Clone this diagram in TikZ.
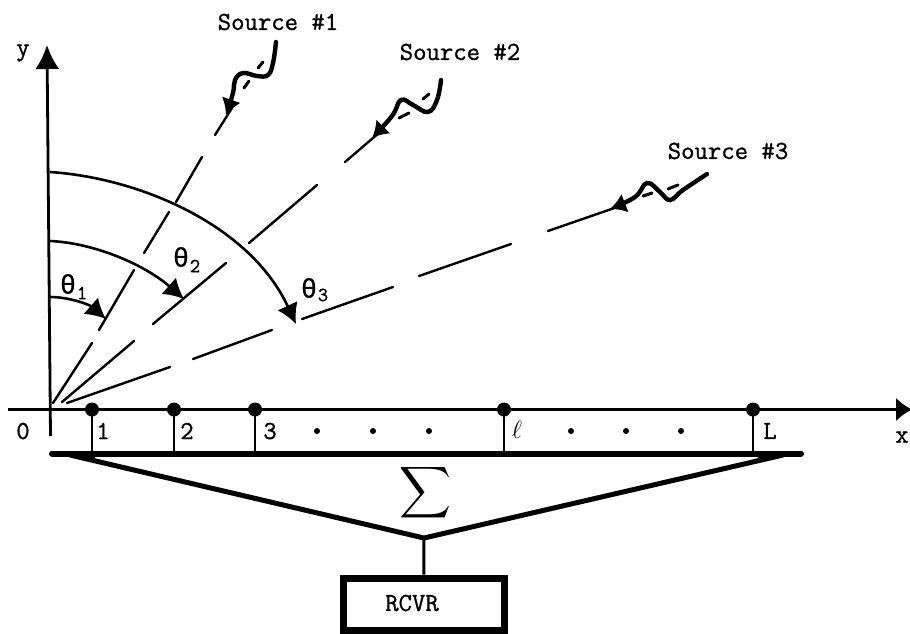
\documentclass[tikz,border=0pt]{standalone}
\usepackage{fontspec}
\usetikzlibrary{arrows.meta}
\newfontfamily\grkfont[RawFeature={embolden=0.5}]{Liberation Mono}
\newfontfamily\typefont[RawFeature={embolden=1}]{Latin Modern Mono}
\tikzset{
  lab/.style={font=\typefont\fontsize{26}{26}\selectfont,inner sep=0pt,text=black},
  src/.style={font=\typefont\fontsize{26}{26}\selectfont,inner sep=0pt,text=black},
  thetalab/.style={inner sep=0pt,font=\grkfont\fontsize{27}{27}\selectfont},
  subs/.style={inner sep=0pt,font=\typefont\fontsize{20}{20}\selectfont},
  elem/.style={circle,fill=black,inner sep=0pt,minimum size=14pt},
  spot/.style={circle,fill=black,inner sep=0pt,minimum size=6pt},
  ray/.style={line width=2.4pt,line cap=round},
  axis/.style={line width=2.8pt},
  arc/.style={line width=2.6pt,-{Latex[length=20pt,width=22pt]}},
  wave/.style={line width=4.4pt,line cap=round,-{Latex[length=16pt,width=20pt]}},
  dash piece/.style={line width=3pt,line cap=round},
  bus/.style={line width=6pt,line cap=round},
  stem/.style={line width=2.8pt},
  rcvr/.style={draw,line width=7pt,minimum width=160.5pt,minimum height=52pt,inner sep=0pt}
}
\begin{document}
\begin{tikzpicture}[x=1pt,y=-1pt]
\useasboundingbox (0,0) rectangle (910,633);
% axes
\coordinate (ytop) at (47,45);
\coordinate (ybot) at (50.5,436);
\coordinate (xl) at (8,409.5);
\coordinate (xr) at (912,409.5);
\draw[axis,-{Latex[length=24pt,width=24pt]}] (ybot) -- (ytop);
\draw[axis,-{Latex[length=16pt,width=24pt]}] (xl) -- (xr);
\node[lab] (ylab) at (23,53) {y};
\node[lab] (xlab) at (902,437) {x};
\node[lab] (olab) at (23,431) {0};
% array
\foreach \n/\x in {1/92,2/174,3/255,4/504,5/753}{
  \node[elem] (e\n) at (\x,409.5) {};
  \coordinate (b\n) at (\x,453);
  \draw[stem] (e\n.center) -- (b\n);
}
\node[lab] (l1) at (103,431) {1};
\node[lab] (l2) at (187,431) {2};
\node[lab] (l3) at (270,431) {3};
\node[inner sep=0pt,font=\fontsize{26}{26}\selectfont] (l4) at (517,430) {$\ell$};
\node[lab] (l5) at (770,431) {L};
\foreach \n/\x in {a/317,b/373,c/429,d/571,e/626,f/681}{
  \node[spot] (s\n) at (\x,431) {};
}
% summer
\coordinate (bl) at (52,453.5);
\coordinate (br) at (801,453.5);
\coordinate (blin) at (70,455);
\coordinate (brin) at (783,455);
\coordinate (sum) at (424,538);
\draw[bus] (bl) -- (br);
\draw[line width=5pt,line join=miter] (blin) -- (sum) -- (brin);
\fill (bl) -- (95,451) -- (95,459) -- cycle;
\fill (br) -- (758,451) -- (758,459) -- cycle;
\node[inner sep=0pt,scale=3.6] (sig) at (425,493) {$\displaystyle\sum$};
\node[rcvr] (box) at (423.75,604) {};
\node[src] (boxtext) at (412,603) {RCVR};
\draw[line width=3pt] (sum) -- (box.north);
% rays
\draw[ray] (53,403) -- (92,343);
\draw[ray] (99,330) -- (134,270);
\draw[ray] (144,253) -- (169,212);
\draw[ray] (176,202) -- (202,157);
\draw[ray] (215,135) -- (232,108);
\draw[ray] (62,402) -- (134,341);
\draw[ray] (153,324) -- (226,263);
\draw[ray] (249,243) -- (317,185);
\draw[ray] (345,162) -- (380,132);
\draw[ray] (67,403) -- (170,367);
\draw[ray] (193,359) -- (272,330);
\draw[ray] (302,319) -- (393,287);
\draw[ray] (419,276) -- (511,244);
\draw[ray] (548,231) -- (623,205);
% arcs
\draw[arc] (50,297) .. controls (70,297) and (90,305) .. (106,319);
\draw[arc] (50,241) .. controls (95,243) and (145,265) .. (184,299);
\draw[arc] (50,172) .. controls (140,178) and (250,225) .. (296,324);
\node[thetalab] (t1) at (68,284) {θ};
\node[subs] (t1s) at (82,293) {1};
\node[thetalab] (t2) at (181,257) {θ};
\node[subs] (t2s) at (195,266) {2};
\node[thetalab] (t3) at (309,288) {θ};
\node[subs] (t3s) at (323,295) {3};
% waves
\draw[wave] plot[smooth,tension=.7] coordinates {(276,42) (273,63) (268,75) (257,76) (243,73) (235,80) (233,93) (226,115)};
\draw[dash piece] (258,68) -- (263,62);
\draw[dash piece] (244,88) -- (249,81);
\draw[wave] plot[smooth,tension=.7] coordinates {(441,80) (437,100) (428,112) (413,105) (401,100) (392,116) (372,138)};
\draw[dash piece] (399,118) -- (409,113);
\draw[dash piece] (423,99) -- (429,94);
\draw[wave] plot[smooth,tension=.7] coordinates {(707,174) (683,190) (670,200) (660,192) (647,183) (635,197) (610,209)};
\draw[dash piece] (643,196) -- (652,193);
\draw[dash piece] (668,189) -- (678,185);
% source labels
\node[src] (s1) at (278,22) {Source \#1};
\node[src] (s2) at (460,52) {Source \#2};
\node[src] (s3) at (728,151) {Source \#3};
\end{tikzpicture}
\end{document}
